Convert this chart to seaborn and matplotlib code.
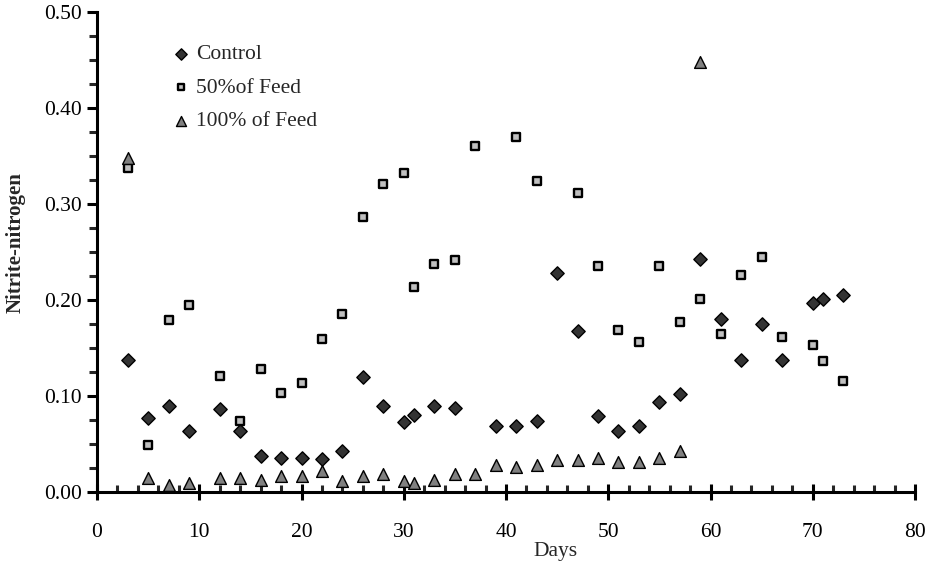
import matplotlib
matplotlib.use("Agg")
import matplotlib.pyplot as plt
from matplotlib.ticker import MultipleLocator, FormatStrFormatter
import seaborn as sns
import pandas as pd

# ---- data ----
control_days = [3, 5, 7, 9, 12, 14, 16, 18, 20, 22, 24, 26, 28, 30, 31, 33, 35,
                39, 41, 43, 45, 47, 49, 51, 53, 55, 57, 59, 61, 63, 65, 67, 70, 71, 73]
control_vals = [0.138, 0.077, 0.090, 0.064, 0.086, 0.064, 0.037, 0.035, 0.035, 0.034,
                0.043, 0.120, 0.090, 0.073, 0.080, 0.090, 0.088, 0.069, 0.069, 0.074,
                0.228, 0.168, 0.079, 0.064, 0.069, 0.094, 0.102, 0.243, 0.180, 0.137,
                0.175, 0.137, 0.197, 0.201, 0.205]

half_days = [3, 5, 7, 9, 12, 14, 16, 18, 20, 22, 24, 26, 28, 30, 31, 33, 35, 37,
             41, 43, 47, 49, 51, 53, 55, 57, 59, 61, 63, 65, 67, 70, 71, 73]
half_vals = [0.337, 0.049, 0.179, 0.195, 0.121, 0.074, 0.128, 0.103, 0.114, 0.159,
             0.185, 0.286, 0.321, 0.332, 0.214, 0.237, 0.242, 0.360, 0.370, 0.324,
             0.311, 0.235, 0.169, 0.156, 0.235, 0.177, 0.201, 0.165, 0.226, 0.245,
             0.161, 0.153, 0.136, 0.116]

full_days = [3, 5, 7, 9, 12, 14, 16, 18, 20, 22, 24, 26, 28, 30, 31, 33, 35, 37,
             39, 41, 43, 45, 47, 49, 51, 53, 55, 57, 59]
full_vals = [0.348, 0.015, 0.007, 0.009, 0.015, 0.015, 0.012, 0.017, 0.017, 0.022,
             0.011, 0.017, 0.019, 0.011, 0.009, 0.013, 0.019, 0.019, 0.028, 0.026,
             0.028, 0.033, 0.033, 0.035, 0.031, 0.031, 0.035, 0.043, 0.448]

series_names = ["Control", "50%of Feed", "100% of Feed"]
x_ticks = [0, 10, 20, 30, 40, 50, 60, 70, 80]
y_ticks = [0.0, 0.1, 0.2, 0.3, 0.4, 0.5]

df_c = pd.DataFrame({"Days": control_days, "val": control_vals})
df_h = pd.DataFrame({"Days": half_days, "val": half_vals})
df_f = pd.DataFrame({"Days": full_days, "val": full_vals})

sns.set_style("ticks")
plt.rcParams["font.family"] = ["Liberation Serif", "DejaVu Serif"]

fig = plt.figure(figsize=(9.36, 5.64), dpi=100)
ax = fig.add_axes([97 / 936, 72 / 564, 818 / 936, 480 / 564])

sns.scatterplot(data=df_c, x="Days", y="val", ax=ax, marker="D", s=46,
                color="#333333", edgecolor="black", linewidth=1.0,
                label=series_names[0], zorder=3, clip_on=False)
sns.scatterplot(data=df_h, x="Days", y="val", ax=ax, marker="s", s=34,
                color="#c0c0c0", edgecolor="black", linewidth=1.7,
                label=series_names[1], zorder=3, clip_on=False)
sns.scatterplot(data=df_f, x="Days", y="val", ax=ax, marker="^", s=72,
                color="#808080", edgecolor="black", linewidth=1.0,
                label=series_names[2], zorder=4, clip_on=False)

ax.set_xlim(0, 80)
ax.set_ylim(0, 0.5)
ax.set_xticks(x_ticks)
ax.set_yticks(y_ticks)
ax.xaxis.set_minor_locator(MultipleLocator(2))
ax.yaxis.set_minor_locator(MultipleLocator(0.025))
ax.yaxis.set_major_formatter(FormatStrFormatter("%.2f"))

for side in ["top", "right"]:
    ax.spines[side].set_visible(False)
for side in ["left", "bottom"]:
    ax.spines[side].set_linewidth(2.2)
    ax.spines[side].set_color("black")

ax.tick_params(axis="x", which="major", direction="inout", length=12, width=2.2,
               pad=16, labelsize=15.5, colors="black")
ax.tick_params(axis="x", which="minor", direction="in", length=5, width=2.2)
ax.tick_params(axis="y", which="major", direction="out", length=7, width=2.2,
               pad=4, labelsize=15.5, colors="black")
ax.tick_params(axis="y", which="minor", direction="out", length=5.5, width=2.2)

ax.set_xlabel("Days", fontsize=15.5)
ax.xaxis.set_label_coords(0.56, -0.104)
ax.set_ylabel("Nitrite-nitrogen", fontsize=15, fontweight="bold")
ax.yaxis.set_label_coords(-0.1, 0.519)
ax.yaxis.label.set_va("center")

ax.legend(loc="upper left", bbox_to_anchor=(0.079, 0.955), frameon=False,
          fontsize=15.5, handletextpad=0.3, handlelength=0.8, labelspacing=0.62,
          borderpad=0, markerscale=0.85)

ax.set_facecolor("white")
fig.patch.set_facecolor("white")
fig.savefig("out.png", dpi=100)
